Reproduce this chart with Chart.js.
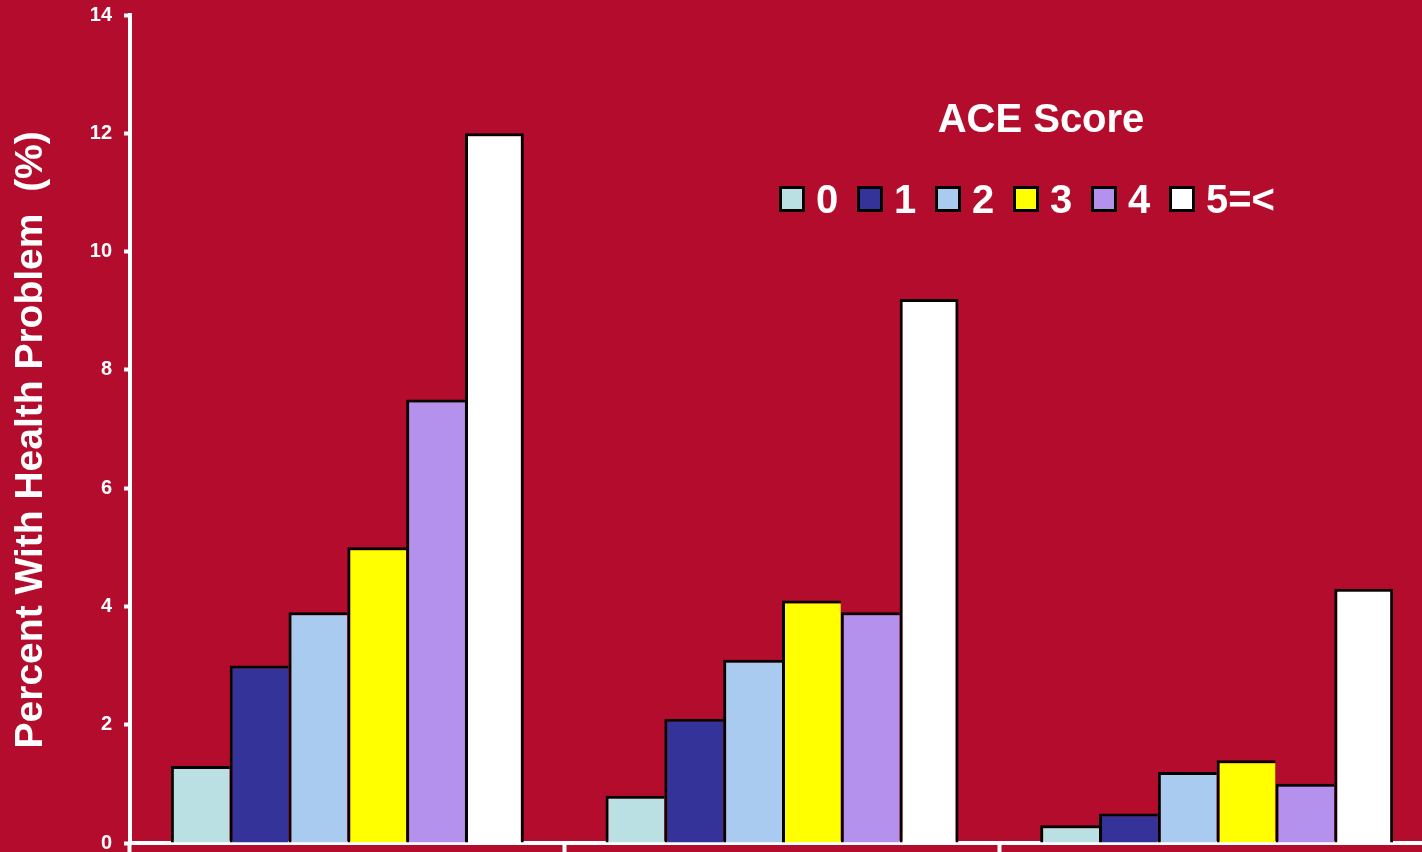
<!DOCTYPE html>
<html lang="en">
<head>
    <meta charset="UTF-8">
    <title>ACE Score - Percent With Health Problem</title>
    <script src="https://cdn.jsdelivr.net/npm/chart.js"></script>
    <style>
        html, body { margin: 0; padding: 0; background: #B30C2C; overflow: hidden; }
        #wrap { position: absolute; left: 0; top: 0; width: 1434px; height: 852px; }
    </style>
</head>
<body>
    <div id="wrap">
        <canvas id="aceChart"></canvas>
    </div>

    <script>
        // Three groups of bars, one bar per ACE score
        const groups = ['Group A', 'Group B', 'Group C'];
        const scoreLabels = ['0', '1', '2', '3', '4', '5=<'];
        const scoreColors = ['#BBE0E3', '#333399', '#A9CBEF', '#FFFF00', '#B491EC', '#FFFFFF'];

        const score0 = [1.3, 0.8, 0.3];
        const score1 = [3.0, 2.1, 0.5];
        const score2 = [3.9, 3.1, 1.2];
        const score3 = [5.0, 4.1, 1.4];
        const score4 = [7.5, 3.9, 1.0];
        const score5 = [12.0, 9.2, 4.3];

        const yTicks = [0, 2, 4, 6, 8, 10, 12, 14];

        const seriesValues = [score0, score1, score2, score3, score4, score5];

        // Legend drawn inside the plot, with a heading above the swatches
        const aceLegend = {
            id: 'aceLegend',
            afterDraw(chart, args, opts) {
                const ctx = chart.ctx;
                ctx.save();
                ctx.fillStyle = '#FFFFFF';
                ctx.font = 'bold 40px Arial, "Liberation Sans", sans-serif';
                ctx.textAlign = 'center';
                ctx.textBaseline = 'alphabetic';
                ctx.fillText(opts.title, opts.titleX, opts.titleY);

                ctx.textAlign = 'left';
                chart.data.datasets.forEach((ds, i) => {
                    const x = opts.x + i * opts.step;
                    ctx.fillStyle = ds.backgroundColor;
                    ctx.fillRect(x, opts.y, opts.box, opts.box);
                    ctx.lineWidth = 3;
                    ctx.strokeStyle = '#000000';
                    ctx.strokeRect(x + 1.5, opts.y + 1.5, opts.box - 3, opts.box - 3);
                    ctx.fillStyle = '#FFFFFF';
                    ctx.fillText(ds.label, x + opts.box + 11, opts.y + opts.box + 1);
                });
                ctx.restore();
            }
        };

        const datasets = scoreLabels.map((label, i) => ({
            label: label,
            data: seriesValues[i],
            backgroundColor: scoreColors[i],
            borderColor: '#000000',
            borderWidth: { top: 3, left: 3, right: i === scoreLabels.length - 1 ? 3 : 0, bottom: 0 },
            borderSkipped: 'start',
            categoryPercentage: 0.812,
            barPercentage: 1.0
        }));

        new Chart(document.getElementById('aceChart'), {
            type: 'bar',
            data: { labels: groups, datasets: datasets },
            plugins: [aceLegend],
            options: {
                responsive: true,
                maintainAspectRatio: false,
                animation: false,
                layout: { padding: { left: 8, top: 15, right: 0, bottom: 0 } },
                plugins: {
                    legend: { display: false },
                    tooltip: { enabled: false },
                    aceLegend: {
                        title: 'ACE Score',
                        titleX: 1041, titleY: 132,
                        x: 779, y: 186, box: 26, step: 78
                    }
                },
                scales: {
                    x: {
                        ticks: { display: false },
                        grid: {
                            display: true,
                            offset: true,
                            drawOnChartArea: false,
                            drawTicks: true,
                            tickLength: 10,
                            tickWidth: 4,
                            tickColor: '#FFFFFF'
                        },
                        border: { color: '#FFFFFF', width: 4 },
                        afterFit: (scale) => {
                            scale.height = 9;
                            scale.paddingLeft = 0;
                            scale.paddingRight = 0;
                        }
                    },
                    y: {
                        min: 0,
                        max: 14,
                        afterBuildTicks: (axis) => { axis.ticks = yTicks.map(v => ({ value: v })); },
                        afterFit: (scale) => {
                            scale.width = 122;
                            scale.paddingTop = 0;
                            scale.paddingBottom = 0;
                        },
                        ticks: {
                            color: '#FFFFFF',
                            padding: 12,
                            font: { family: 'Arial, "Liberation Sans", sans-serif', size: 20, weight: 'bold' }
                        },
                        grid: {
                            drawOnChartArea: false,
                            drawTicks: true,
                            tickLength: 6,
                            tickWidth: 4,
                            tickColor: '#FFFFFF'
                        },
                        border: { color: '#FFFFFF', width: 4 },
                        title: {
                            display: true,
                            text: 'Percent With Health Problem  (%)  ',
                            color: '#FFFFFF',
                            padding: { top: 0, bottom: 28 },
                            font: { family: 'Arial, "Liberation Sans", sans-serif', size: 39, weight: 'bold' }
                        }
                    }
                }
            }
        });
    </script>
</body>
</html>
